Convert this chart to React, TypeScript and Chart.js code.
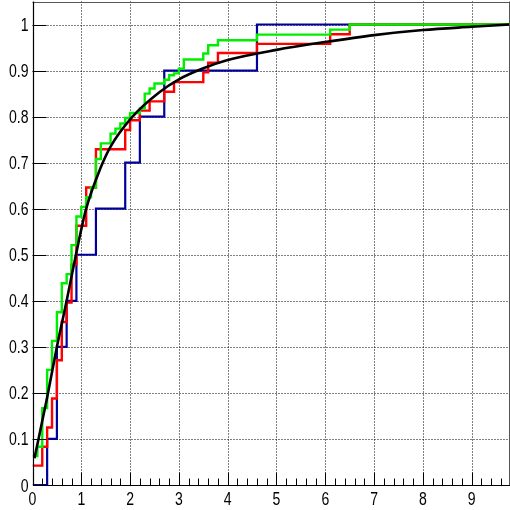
import React, { useEffect, useRef } from 'react';
import { Chart, registerables } from 'chart.js';

Chart.register(...registerables);

// ---- data ----
const blueX = [0, 0.3, 0.5, 0.7, 0.9, 1.3, 1.9, 2.2, 2.7, 4.6, 9.9];
const blueY = [0, 0.1, 0.3, 0.4, 0.5, 0.6, 0.7, 0.8, 0.9, 1.0, 1.0];

const redX = [0, 0.2, 0.3, 0.4, 0.5, 0.6, 0.7, 0.8, 0.9, 1.1, 1.3, 1.9, 2.0, 2.2, 2.4, 2.7, 2.9, 3.5, 3.6, 3.8, 4.6, 6.1, 6.5, 9.9];
const redY = [0.042, 0.083, 0.125, 0.188, 0.271, 0.354, 0.396, 0.479, 0.563, 0.646, 0.729, 0.771, 0.792, 0.813, 0.833, 0.854, 0.875, 0.896, 0.917, 0.938, 0.958, 0.979, 1.0, 1.0];

const greenX = [0, 0.1, 0.2, 0.3, 0.4, 0.5, 0.6, 0.7, 0.8, 0.9, 1.0, 1.1, 1.2, 1.3, 1.4, 1.6, 1.7, 1.8, 1.9, 2.0, 2.2, 2.3, 2.4, 2.5, 2.7, 2.8, 2.9, 3.0, 3.1, 3.5, 3.6, 3.8, 4.6, 6.1, 6.5, 9.9];
const greenY = [0.063, 0.083, 0.167, 0.25, 0.313, 0.375, 0.438, 0.458, 0.521, 0.583, 0.604, 0.625, 0.646, 0.708, 0.742, 0.763, 0.774, 0.785, 0.797, 0.808, 0.818, 0.85, 0.861, 0.872, 0.88, 0.89, 0.894, 0.904, 0.924, 0.937, 0.955, 0.966, 0.978, 0.989, 1.0, 1.0];

const curveX = [0.04, 0.3, 0.5, 0.7, 0.89, 1.1, 1.4, 1.6, 2.05, 2.6, 3.0, 3.5, 4.0, 5.0, 6.0, 7.0, 8.0, 9.0, 9.78];
const curveY = [0.058, 0.19, 0.3, 0.4, 0.5, 0.6, 0.69, 0.735, 0.8, 0.853, 0.881, 0.905, 0.923, 0.945, 0.962, 0.977, 0.988, 0.995, 1.0];

const xTicks = [0, 1, 2, 3, 4, 5, 6, 7, 8, 9];
const xTickLabels = ['0', '1', '2', '3', '4', '5', '6', '7', '8', '9'];
const yTicks = [0, 0.1, 0.2, 0.3, 0.4, 0.5, 0.6, 0.7, 0.8, 0.9, 1];
const yTickLabels = ['0', '0.1', '0.2', '0.3', '0.4', '0.5', '0.6', '0.7', '0.8', '0.9', '1'];

const X_MIN = 0;
const X_MAX = 9.785;
const Y_MIN = 0;
const Y_MAX = 1.05;
const X_MINOR_STEP = 0.2;

const FONT = "18px 'Liberation Sans', Arial, sans-serif";
const FONT_SQUEEZE = 0.78;

const pts = (xs: number[], ys: number[]) => xs.map((x, i) => ({ x, y: ys[i] }));

const rootFramePlugin = {
  id: 'rootFrame',
  beforeDatasetsDraw(chart: any) {
    const { ctx, chartArea: a, scales } = chart;
    const xs = scales.x;
    const ys = scales.y;
    ctx.save();
    ctx.strokeStyle = '#000';
    ctx.lineWidth = 1;
    ctx.setLineDash([1, 2]);
    xTicks.forEach((v) => {
      if (v === X_MIN) return;
      const px = Math.round(xs.getPixelForValue(v)) + 0.5;
      ctx.beginPath();
      ctx.moveTo(px, a.top);
      ctx.lineTo(px, a.bottom);
      ctx.stroke();
    });
    yTicks.forEach((v) => {
      if (v === Y_MIN) return;
      const py = Math.round(ys.getPixelForValue(v)) + 0.5;
      ctx.beginPath();
      ctx.moveTo(a.left, py);
      ctx.lineTo(a.right, py);
      ctx.stroke();
    });
    ctx.restore();
  },
  afterDatasetsDraw(chart: any) {
    const { ctx, chartArea: a, scales } = chart;
    const xs = scales.x;
    const ys = scales.y;
    ctx.save();
    ctx.setLineDash([]);
    // frame top / right
    ctx.strokeStyle = '#555';
    ctx.lineWidth = 1;
    ctx.beginPath();
    ctx.moveTo(a.left, Math.round(a.top) + 0.5);
    ctx.lineTo(a.right, Math.round(a.top) + 0.5);
    ctx.moveTo(a.right - 0.5, a.top);
    ctx.lineTo(a.right - 0.5, a.bottom);
    ctx.stroke();
    // axes
    ctx.strokeStyle = '#000';
    ctx.lineWidth = 1.2;
    const lx = Math.round(a.left) + 0.5;
    const by = Math.round(a.bottom) + 0.5;
    ctx.beginPath();
    ctx.moveTo(lx, a.top);
    ctx.lineTo(lx, by);
    ctx.lineTo(a.right, by);
    ctx.stroke();
    // y major ticks
    ctx.lineWidth = 1;
    yTicks.forEach((v) => {
      const py = Math.round(ys.getPixelForValue(v)) + 0.5;
      ctx.beginPath();
      ctx.moveTo(lx, py);
      ctx.lineTo(lx + 13, py);
      ctx.stroke();
    });
    // x major ticks
    xTicks.forEach((v) => {
      const px = Math.round(xs.getPixelForValue(v)) + 0.5;
      ctx.beginPath();
      ctx.moveTo(px, by);
      ctx.lineTo(px, by - 13);
      ctx.stroke();
    });
    // x minor ticks
    for (let k = 1; k * X_MINOR_STEP < X_MAX; k++) {
      if (k % 5 === 0) continue;
      const px = Math.round(xs.getPixelForValue(k * X_MINOR_STEP)) + 0.5;
      ctx.beginPath();
      ctx.moveTo(px, by);
      ctx.lineTo(px, by - 7);
      ctx.stroke();
    }
    // tick labels (condensed Helvetica-like, as in ROOT)
    ctx.fillStyle = '#000';
    ctx.font = FONT;
    ctx.textBaseline = 'alphabetic';
    ctx.textAlign = 'right';
    yTicks.forEach((v, i) => {
      const py = ys.getPixelForValue(v);
      ctx.save();
      ctx.translate(a.left - 4, py + 6.5);
      ctx.scale(FONT_SQUEEZE, 1);
      ctx.fillText(yTickLabels[i], 0, 0);
      ctx.restore();
    });
    ctx.textAlign = 'center';
    xTicks.forEach((v, i) => {
      const px = xs.getPixelForValue(v);
      ctx.save();
      ctx.translate(px, a.bottom + 19.5);
      ctx.scale(FONT_SQUEEZE, 1);
      ctx.fillText(xTickLabels[i], 0, 0);
      ctx.restore();
    });
    ctx.restore();
  },
};

export default function App() {
  const ref = useRef<HTMLCanvasElement | null>(null);

  useEffect(() => {
    if (!ref.current) return;
    const chart = new Chart(ref.current, {
      type: 'line',
      data: {
        datasets: [
          {
            label: 'curve',
            data: pts(curveX, curveY),
            borderColor: '#000000',
            borderWidth: 2.6,
            pointRadius: 0,
            cubicInterpolationMode: 'monotone',
            fill: false,
          },
          {
            label: 'green',
            data: pts(greenX, greenY),
            borderColor: '#00ee00',
            borderWidth: 2.4,
            pointRadius: 0,
            stepped: 'before',
            fill: false,
          },
          {
            label: 'red',
            data: pts(redX, redY),
            borderColor: '#ff0000',
            borderWidth: 2.4,
            pointRadius: 0,
            stepped: 'before',
            fill: false,
          },
          {
            label: 'blue',
            data: pts(blueX, blueY),
            borderColor: '#00009c',
            borderWidth: 2.2,
            pointRadius: 0,
            stepped: 'before',
            fill: false,
          },
        ],
      },
      options: {
        animation: false,
        responsive: false,
        devicePixelRatio: 1,
        layout: { padding: { top: 1.5, right: 0, left: 0, bottom: 0 } },
        plugins: {
          legend: { display: false },
          tooltip: { enabled: false },
        },
        scales: {
          x: {
            type: 'linear',
            min: X_MIN,
            max: X_MAX,
            grid: { display: false, drawTicks: false },
            border: { display: false },
            afterBuildTicks: (scale: any) => {
              scale.ticks = xTicks.map((v) => ({ value: v }));
            },
            afterFit: (scale: any) => {
              scale.height = 25;
              scale.paddingLeft = 0;
              scale.paddingRight = 0;
            },
            ticks: { display: false },
          },
          y: {
            type: 'linear',
            min: Y_MIN,
            max: Y_MAX,
            grid: { display: false, drawTicks: false },
            border: { display: false },
            afterBuildTicks: (scale: any) => {
              scale.ticks = yTicks.map((v) => ({ value: v }));
            },
            afterFit: (scale: any) => {
              scale.width = 32.5;
              scale.paddingTop = 0;
              scale.paddingBottom = 0;
            },
            ticks: { display: false },
          },
        },
      },
      plugins: [rootFramePlugin],
    } as any);
    return () => chart.destroy();
  }, []);

  return (
    <div style={{ position: 'absolute', left: 0, top: 0, width: 510, height: 510, background: '#fff' }}>
      <canvas ref={ref} width={510} height={510} style={{ display: 'block' }} />
    </div>
  );
}
